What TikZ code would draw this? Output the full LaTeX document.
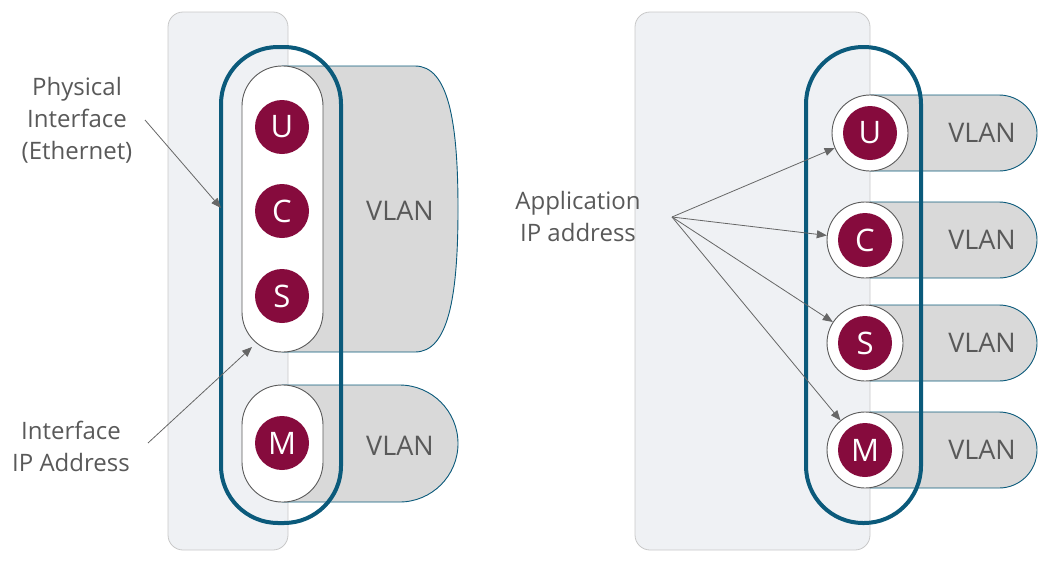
\documentclass[tikz,border=0pt]{standalone}
\usepackage{fontspec}
\setmainfont{Open Sans}
\usetikzlibrary{shapes.misc,arrows.meta}

\definecolor{hostgray}{HTML}{EFF1F4}
\definecolor{hostline}{HTML}{C8C8C8}
\definecolor{vlangray}{HTML}{D9D9D9}
\definecolor{ifblue}{HTML}{0B5A7B}
\definecolor{appred}{HTML}{860B3D}
\definecolor{labelgray}{HTML}{595959}
\definecolor{pillline}{HTML}{5A5A5A}

\tikzset{
  host/.style={draw=hostline, fill=hostgray, line width=0.8pt, rounded corners=15pt},
  vlan/.style={draw=ifblue, fill=vlangray, line width=0.9pt},
  vlanpill/.style={vlan, rounded rectangle, rounded rectangle left arc=none,
    minimum height=76pt, minimum width=167pt, inner sep=0pt},
  pill/.style={draw=pillline, fill=white, line width=0.9pt, inner sep=0pt},
  ring/.style={circle, draw=pillline, fill=white, line width=0.9pt, minimum size=76pt, inner sep=0pt},
  app/.style={circle, fill=appred, text=white, minimum size=54pt, inner sep=0pt,
    font=\fontsize{31}{31}\selectfont},
  phys/.style={draw=ifblue, line width=4pt, rounded corners=57pt},
  lbl/.style={text=labelgray, align=center, font=\fontsize{24}{32}\selectfont},
  vlantxt/.style={text=labelgray, font=\fontsize{27}{27}\selectfont},
  pointer/.style={draw=black!60, line width=0.8pt, -{Triangle[length=10pt,width=8pt]}},
}

\begin{document}
\begin{tikzpicture}[x=1pt,y=-1pt]
  \useasboundingbox (0,0) rectangle (1046,563);

  % left: one interface, shared VLAN
  \draw[host] (168,12) rectangle (288,550);
  \draw[vlan] (282,66) -- (415,66) .. controls (448,66) and (458,120) .. (458,209)
    .. controls (458,298) and (448,352) .. (415,352) -- (282,352) -- cycle;
  \node[vlanpill, minimum width=176pt, minimum height=117pt] (vlanm1) at (370,443.5) {};
  \node[pill, rounded corners=40pt, minimum width=81pt, minimum height=286pt] (pillucs) at (282.5,209) {};
  \node[pill, rounded corners=40pt, minimum width=81pt, minimum height=117pt] (pillm) at (282.5,443.5) {};
  \node[app] (u1) at (282,127) {U};
  \node[app] (c1) at (282,211) {C};
  \node[app] (s1) at (282,296) {S};
  \node[app] (m1) at (282,443) {M};
  \node[vlantxt] (vlanucs) at (400,211) {VLAN};
  \node[vlantxt] (vlanm) at (400,446) {VLAN};
  \draw[phys] (221,47) rectangle (341,523);

  \node[lbl] (physlbl) at (77,120) {Physical\\Interface\\(Ethernet)};
  \node[lbl] (iplbl) at (71,446) {Interface\\IP Address};
  \coordinate (phystail) at (145,120);
  \coordinate (physhead) at (221,208);
  \coordinate (iptail) at (148,443);
  \coordinate (iphead) at (252,347);
  \draw[pointer] (phystail) -- (physhead);
  \draw[pointer] (iptail) -- (iphead);

  % right: one address per application, one VLAN each
  \draw[host] (635,12) rectangle (870,550);
  \foreach \n/\l/\x/\y in {u/U/870/133, c/C/865/240, s/S/865/343, m/M/865/450} {
    \node[vlanpill] (v\n) at (953.5,\y) {};
    \node[ring] (r\n) at (\x,\y) {};
    \node[app] (\n2) at (\x,\y) {\l};
    \node[vlantxt] (t\n) at (982,\y) {VLAN};
  }
  \draw[phys] (806,47) rectangle (921,523);

  \node[lbl] (applbl) at (578,216) {Application\\IP address};
  \coordinate (appsrc) at (672,217);
  \foreach \n in {u,c,s,m}
    \draw[pointer] (appsrc) -- (r\n);
\end{tikzpicture}
\end{document}
